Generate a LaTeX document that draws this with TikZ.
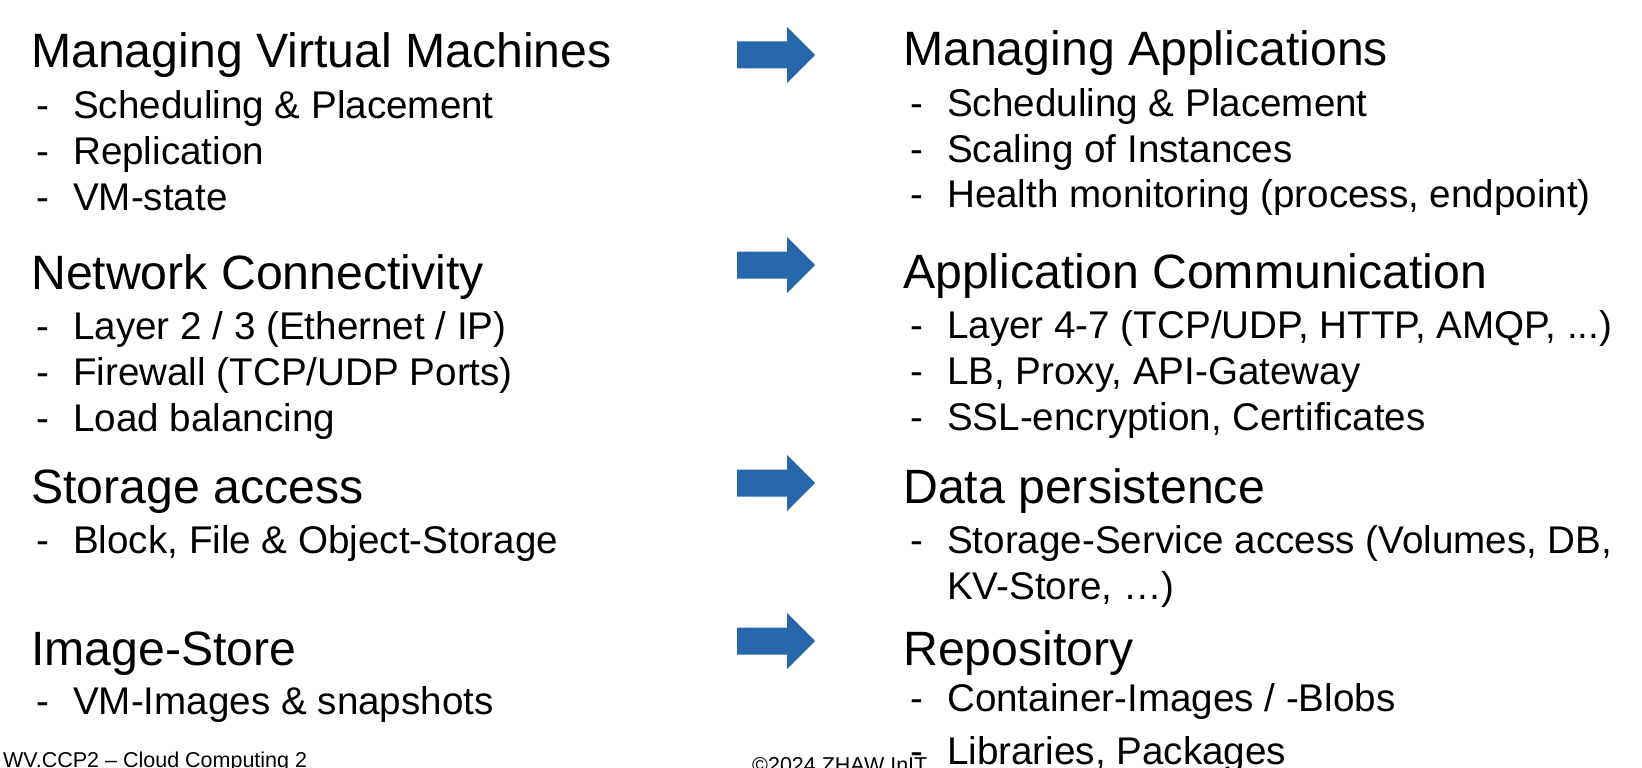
\documentclass[tikz,border=0pt]{standalone}
\usepackage{fontspec}
\setmainfont{Liberation Sans}
\definecolor{arrowblue}{HTML}{2767AC}
\newcommand\itm[1]{\makebox[37pt][l]{-}#1}
\begin{document}
\begin{tikzpicture}[x=1pt,y=-1pt,
  hd/.style={anchor=base west, inner sep=0pt, font=\fontsize{48.2}{58}\selectfont},
  it/.style={anchor=base west, inner sep=0pt, font=\fontsize{38.6}{46}\selectfont},
  ft/.style={anchor=base west, inner sep=0pt, font=\fontsize{21.5}{26}\selectfont},
  blockarrow/.style={fill=arrowblue}]
\path[use as bounding box] (0,0) rectangle (1642,768);
\clip (0,0) rectangle (1642,768);
% left column
\node[hd] (l1) at (31,68) {Managing Virtual Machines};
\node[it] (l1a) at (36,118) {\itm{Scheduling \& Placement}};
\node[it] (l1b) at (36,164) {\itm{Replication}};
\node[it] (l1c) at (36,210) {\itm{VM-state}};
\node[hd] (l2) at (31,289) {Network Connectivity};
\node[it] (l2a) at (36,339) {\itm{Layer 2 / 3 (Ethernet / IP)}};
\node[it] (l2b) at (36,385) {\itm{Firewall (TCP/UDP Ports)}};
\node[it] (l2c) at (36,431) {\itm{Load balancing}};
\node[hd] (l3) at (31,503) {Storage access};
\node[it] (l3a) at (36,553) {\itm{Block, File \& Object-Storage}};
\node[hd] (l4) at (31,665) {Image-Store};
\node[it] (l4a) at (36,714) {\itm{VM-Images \& snapshots}};
% right column
\node[hd] (r1) at (903,66) {Managing Applications};
\node[it] (r1a) at (910,117) {\itm{Scheduling \& Placement}};
\node[it] (r1b) at (910,162) {\itm{Scaling of Instances}};
\node[it] (r1c) at (910,207) {\itm{Health monitoring (process, endpoint)}};
\node[hd] (r2) at (903,288) {Application Communication};
\node[it] (r2a) at (910,338) {\itm{Layer 4-7 (TCP/UDP, HTTP, AMQP, ...)}};
\node[it] (r2b) at (910,384) {\itm{LB, Proxy, API-Gateway}};
\node[it] (r2c) at (910,430) {\itm{SSL-encryption, Certificates}};
\node[hd] (r3) at (903,503) {Data persistence};
\node[it] (r3a) at (910,553) {\itm{Storage-Service access (Volumes, DB,}};
\node[it] (r3b) at (947,599) {KV-Store, …)};
\node[hd] (r4) at (903,665) {Repository};
\node[it] (r4a) at (910,711) {\itm{Container-Images / -Blobs}};
\node[it] (r4b) at (910,764) {\itm{Libraries, Packages}};
% footer
\node[ft] (f1) at (3,767) {WV.CCP2 – Cloud Computing 2};
\node[ft] (f2) at (752,772) {©2024 ZHAW InIT};
% arrows
\foreach \t in {55,265,483,641}{
  \fill[blockarrow] (737,\t-13.5) -- (787,\t-13.5) -- (787,\t-28) -- (815,\t)
    -- (787,\t+28) -- (787,\t+13.5) -- (737,\t+13.5) -- cycle;
}
\end{tikzpicture}
\end{document}
